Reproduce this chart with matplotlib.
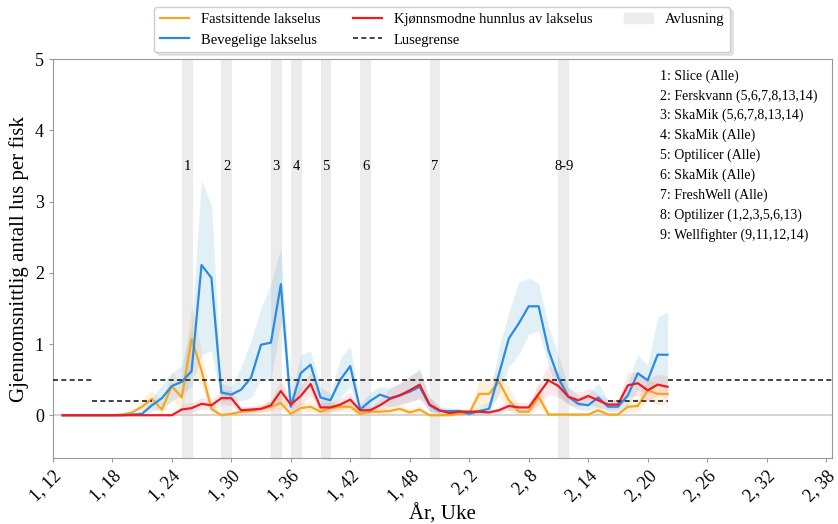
import numpy as np
import matplotlib
matplotlib.use("Agg")
import matplotlib.pyplot as plt
from matplotlib.patches import Patch
from matplotlib.lines import Line2D

plt.rcParams['font.family'] = ['Liberation Serif', 'DejaVu Serif']

# uker med data: 1,13 - 2,22
aar = [1] * 40 + [2] * 22
uke = list(range(13, 53)) + list(range(1, 23))

# Bevegelige lakselus (gjennomsnitt, nedre, oevre)
bevegelige = [0, 0, 0, 0, 0, 0, 0, 0.01, 0.02, 0.14, 0.24, 0.41, 0.47, 0.62, 2.11, 1.93,
              0.32, 0.29, 0.36, 0.53, 0.99, 1.02, 1.84, 0.12, 0.59, 0.71, 0.25, 0.21, 0.50, 0.69,
              0.08, 0.20, 0.29, 0.24, 0.28, 0.33, 0.40, 0.14, 0.06, 0.06, 0.06, 0.02, 0.06, 0.09,
              0.58, 1.08, 1.29, 1.53, 1.53, 0.91, 0.52, 0.26, 0.16, 0.14, 0.25, 0.12, 0.12, 0.28,
              0.59, 0.49, 0.85, 0.85]
bevegelige_lo = [0, 0, 0, 0, 0, 0, 0, 0, 0, 0.05, 0.10, 0.20, 0.30, 0.40, 0.85, 0.90,
                 0.20, 0.20, 0.20, 0.25, 0.50, 0.50, 1.30, 0.05, 0.35, 0.50, 0.12, 0.12, 0.25, 0.40,
                 0.02, 0.10, 0.15, 0.12, 0.15, 0.20, 0.22, 0.05, 0.02, 0.02, 0.02, 0.0, 0.02, 0.02,
                 0.30, 0.68, 0.86, 1.14, 1.19, 0.70, 0.30, 0.15, 0.08, 0.06, 0.12, 0.05, 0.05, 0.15,
                 0.35, 0.30, 0.45, 0.45]
bevegelige_hi = [0, 0, 0, 0, 0, 0, 0, 0.02, 0.05, 0.25, 0.42, 0.60, 0.70, 1.25, 3.30, 2.95,
                 0.45, 0.40, 0.68, 1.05, 1.50, 1.85, 2.35, 0.22, 0.85, 0.90, 0.40, 0.30, 0.80, 0.97,
                 0.15, 0.32, 0.40, 0.38, 0.45, 0.55, 0.66, 0.25, 0.12, 0.10, 0.10, 0.06, 0.12, 0.20,
                 0.95, 1.45, 1.87, 1.93, 1.85, 1.25, 0.85, 0.40, 0.28, 0.30, 0.45, 0.22, 0.22, 0.45,
                 0.85, 0.70, 1.38, 1.45]

# Fastsittende lakselus
fastsittende = [0, 0, 0, 0, 0, 0, 0.01, 0.04, 0.12, 0.23, 0.08, 0.41, 0.25, 1.07, 0.63, 0.09,
                0.0, 0.02, 0.05, 0.06, 0.09, 0.12, 0.17, 0.02, 0.10, 0.12, 0.05, 0.10, 0.12, 0.12,
                0.02, 0.05, 0.05, 0.06, 0.09, 0.04, 0.08, 0.0, 0.0, 0.0, 0.02, 0.03, 0.30, 0.30,
                0.47, 0.21, 0.05, 0.05, 0.26, 0.01, 0.01, 0.01, 0.01, 0.01, 0.07, 0.01, 0.01, 0.12,
                0.13, 0.35, 0.30, 0.30]
fastsittende_lo = [0, 0, 0, 0, 0, 0, 0, 0.01, 0.05, 0.12, 0.02, 0.22, 0.10, 0.60, 0.40, 0.02,
                   0.0, 0.0, 0.02, 0.02, 0.04, 0.06, 0.08, 0.0, 0.04, 0.05, 0.01, 0.04, 0.05, 0.05,
                   0.0, 0.02, 0.02, 0.02, 0.04, 0.01, 0.03, 0.0, 0.0, 0.0, 0.0, 0.01, 0.12, 0.12,
                   0.28, 0.06, 0.0, 0.0, 0.10, 0.0, 0.0, 0.0, 0.0, 0.0, 0.01, 0.0, 0.0, 0.04,
                   0.04, 0.20, 0.15, 0.15]
fastsittende_hi = [0, 0, 0, 0, 0, 0, 0.02, 0.06, 0.22, 0.35, 0.20, 0.60, 0.45, 1.55, 0.90, 0.20,
                   0.03, 0.05, 0.10, 0.10, 0.15, 0.20, 0.30, 0.06, 0.18, 0.20, 0.10, 0.18, 0.20, 0.20,
                   0.06, 0.10, 0.10, 0.12, 0.15, 0.08, 0.14, 0.02, 0.02, 0.02, 0.05, 0.06, 0.50, 0.50,
                   0.65, 0.40, 0.12, 0.12, 0.45, 0.03, 0.03, 0.03, 0.03, 0.03, 0.14, 0.03, 0.03, 0.22,
                   0.25, 0.50, 0.45, 0.45]

# Kjoennsmodne hunnlus
hunnlus = [0, 0, 0, 0, 0, 0, 0, 0, 0, 0, 0, 0, 0.08, 0.10, 0.16, 0.14,
           0.24, 0.24, 0.07, 0.08, 0.09, 0.14, 0.34, 0.15, 0.27, 0.44, 0.11, 0.11, 0.15, 0.22,
           0.07, 0.07, 0.14, 0.23, 0.28, 0.35, 0.43, 0.15, 0.07, 0.03, 0.05, 0.05, 0.05, 0.04,
           0.07, 0.13, 0.11, 0.11, 0.30, 0.49, 0.41, 0.26, 0.21, 0.27, 0.21, 0.15, 0.15, 0.42,
           0.45, 0.35, 0.43, 0.40]
hunnlus_lo = [0, 0, 0, 0, 0, 0, 0, 0, 0, 0, 0, 0, 0.03, 0.04, 0.08, 0.07,
              0.14, 0.14, 0.03, 0.04, 0.04, 0.07, 0.20, 0.07, 0.14, 0.28, 0.05, 0.05, 0.07, 0.12,
              0.03, 0.03, 0.07, 0.12, 0.15, 0.18, 0.25, 0.07, 0.03, 0.01, 0.02, 0.02, 0.02, 0.02,
              0.03, 0.07, 0.05, 0.05, 0.15, 0.30, 0.25, 0.15, 0.12, 0.15, 0.12, 0.08, 0.08, 0.25,
              0.28, 0.20, 0.28, 0.25]
hunnlus_hi = [0, 0, 0, 0, 0, 0, 0, 0, 0, 0, 0, 0, 0.15, 0.18, 0.25, 0.22,
              0.35, 0.35, 0.12, 0.13, 0.15, 0.22, 0.48, 0.25, 0.40, 0.60, 0.18, 0.18, 0.24, 0.32,
              0.12, 0.12, 0.22, 0.38, 0.45, 0.55, 0.62, 0.25, 0.12, 0.06, 0.08, 0.08, 0.08, 0.07,
              0.12, 0.20, 0.18, 0.18, 0.45, 0.70, 0.60, 0.38, 0.32, 0.38, 0.30, 0.22, 0.22, 0.60,
              0.60, 0.50, 0.58, 0.55]

# avlusninger
avlusning_aar = [1, 1, 1, 1, 1, 1, 1, 2]
avlusning_uke = [25, 29, 34, 36, 39, 43, 50, 11]
avlusning_tekst = ["1", "2", "3", "4", "5", "6", "7", "8-9"]

# lusegrense (fra, til, grense)
grense_fra = [(1, 12), (1, 16), (1, 22), (2, 16), (2, 22)]
grense_til = [(1, 16), (1, 22), (2, 16), (2, 22), (2, 39)]
grense_verdi = [0.5, 0.2, 0.5, 0.2, 0.5]

tick_aar = [1, 1, 1, 1, 1, 1, 1, 2, 2, 2, 2, 2, 2, 2]
tick_uke = [12, 18, 24, 30, 36, 42, 48, 2, 8, 14, 20, 26, 32, 38]

behandlinger = """1: Slice (Alle)
2: Ferskvann (5,6,7,8,13,14)
3: SkaMik (5,6,7,8,13,14)
4: SkaMik (Alle)
5: Optilicer (Alle)
6: SkaMik (Alle)
7: FreshWell (Alle)
8: Optilizer (1,2,3,5,6,13)
9: Wellfighter (9,11,12,14)"""

def pos(a, u):
    return (a - 1) * 52 + u - 12

x = np.array([pos(a, u) for a, u in zip(aar, uke)])

c_fast = '#f5a623'
c_bev = '#2b8be3'
c_hunn = '#ec1c24'

fig = plt.figure(figsize=(8.38, 5.24), dpi=100)
ax = fig.add_axes([0.063, 0.126, 0.93, 0.761])

for a, u, t in zip(avlusning_aar, avlusning_uke, avlusning_tekst):
    p = pos(a, u)
    ax.axvspan(p, p + 1.1, color='#ececec', lw=0, zorder=0)
    ax.text(p + 0.55, 3.5, t, ha='center', va='center', fontsize=10.5)

ax.axhline(0, color='#d4d4d4', lw=1.5, zorder=1)

ax.fill_between(x, fastsittende_lo, fastsittende_hi, color=c_fast, alpha=0.15, lw=0, zorder=2)
ax.fill_between(x, bevegelige_lo, bevegelige_hi, color='#5aa8d6', alpha=0.18, lw=0, zorder=2)
ax.fill_between(x, hunnlus_lo, hunnlus_hi, color=c_hunn, alpha=0.1, lw=0, zorder=2)

ax.plot(x, fastsittende, color=c_fast, lw=1.6, zorder=3)
ax.plot(x, bevegelige, color=c_bev, lw=1.6, zorder=3)
ax.plot(x, hunnlus, color=c_hunn, lw=1.6, zorder=4)

for f, t, v in zip(grense_fra, grense_til, grense_verdi):
    ax.hlines(v, pos(*f), pos(*t), colors='#222222', linestyles=(0, (3, 2)), lw=1.2, zorder=5)

ax.text(0.779, 0.975, behandlinger, transform=ax.transAxes, ha='left', va='top',
        fontsize=10, linespacing=1.62)

ax.set_xlim(0, 78.6)
ax.set_ylim(-0.6, 5)
ax.set_yticks([0, 1, 2, 3, 4, 5])
ax.set_xticks([pos(a, u) for a, u in zip(tick_aar, tick_uke)])
ax.set_xticklabels([f"{a}, {u}" for a, u in zip(tick_aar, tick_uke)],
                   rotation=45, ha='right', rotation_mode='anchor')
ax.tick_params(labelsize=13, color='#999999', length=3)
for s in ax.spines.values():
    s.set_color('#999999')
ax.set_xlabel("År, Uke", fontsize=15, labelpad=0)
ax.set_ylabel("Gjennomsnittlig antall lus per fisk", fontsize=15)

handles = [Line2D([], [], color=c_fast, lw=1.6),
           Line2D([], [], color=c_bev, lw=1.6),
           Line2D([], [], color=c_hunn, lw=1.6),
           Line2D([], [], color='#222222', lw=1.2, ls=(0, (3, 2))),
           Patch(color='#ececec')]
labels = ["Fastsittende lakselus", "Bevegelige lakselus",
          "Kjønnsmodne hunnlus av lakselus", "Lusegrense", "Avlusning"]
ax.legend(handles, labels, ncol=3, loc='lower center', bbox_to_anchor=(0.5, 1.017),
          fontsize=10.5, frameon=True, edgecolor='#cccccc', shadow={'shade': 0.2},
          columnspacing=2.2, borderaxespad=0)

fig.savefig("out.png", dpi=100)
